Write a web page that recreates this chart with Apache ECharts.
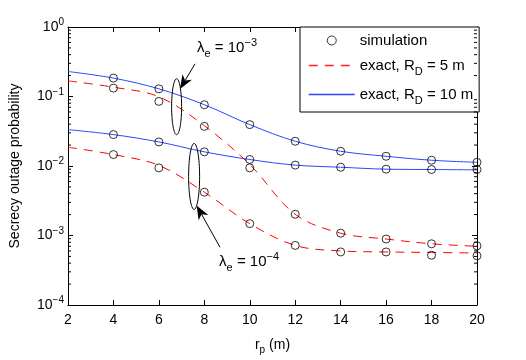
<!DOCTYPE html>
<html>
<head>
<meta charset="utf-8">
<script src="https://cdn.jsdelivr.net/npm/echarts@6/dist/echarts.min.js"></script>
<style>
  html, body { margin: 0; padding: 0; background: #fff; }
  #main { width: 526px; height: 360px; }
</style>
</head>
<body>
<div id="main"></div>
<script>
// distance r_p (m)
var rp = [2, 4, 6, 8, 10, 12, 14, 16, 18, 20];
var rpSim = [4, 6, 8, 10, 12, 14, 16, 18, 20];

// exact curves
var exact5_hi = [0.168, 0.136, 0.099, 0.038, 0.0105, 0.00202, 0.00108, 0.00089, 0.00076, 0.00070];
var exact10_hi = [0.229, 0.184, 0.129, 0.0762, 0.0394, 0.0227, 0.0163, 0.0138, 0.0121, 0.0113];
var exact5_lo = [0.0186, 0.0146, 0.0102, 0.0042, 0.00148, 0.00072, 0.00060, 0.00058, 0.00057, 0.00056];
var exact10_lo = [0.0334, 0.0283, 0.0222, 0.0160, 0.0124, 0.0103, 0.0096, 0.0090, 0.0089, 0.0088];

// simulation points
var sim5_hi = [0.132, 0.085, 0.0372, 0.0094, 0.00202, 0.00108, 0.00089, 0.00076, 0.00071];
var sim10_hi = [0.184, 0.129, 0.0762, 0.0394, 0.0227, 0.0163, 0.0138, 0.0121, 0.0113];
var sim5_lo = [0.0146, 0.0094, 0.0042, 0.00148, 0.00072, 0.00058, 0.00058, 0.00052, 0.00051];
var sim10_lo = [0.0283, 0.0222, 0.0160, 0.0124, 0.0103, 0.0096, 0.0090, 0.0089, 0.0089];

var xTicks = [2, 4, 6, 8, 10, 12, 14, 16, 18, 20];
var yExponents = [-4, -3, -2, -1, 0];

var FONT = 'Liberation Sans, Arial, sans-serif';

function pairs(xs, ys) {
  return xs.map(function (x, i) { return [x, ys[i]]; });
}

// minor tick values 2..9 x 10^k
var minorVals = [];
yExponents.slice(0, 4).forEach(function (e) {
  for (var m = 2; m <= 9; m++) minorVals.push([2, m * Math.pow(10, e)]);
});

var chart = echarts.init(document.getElementById('main'));

function exactLine(name, color, dash, data) {
  return {
    name: name, type: 'line', data: pairs(rp, data),
    smooth: 0.35, showSymbol: false, symbol: 'none', silent: true,
    lineStyle: { color: color, width: 1, type: dash },
    itemStyle: { color: color }, z: 2
  };
}
function simPoints(data) {
  return {
    name: 'simulation', type: 'scatter', data: pairs(rpSim, data),
    symbol: 'circle', symbolSize: 8, silent: true,
    itemStyle: { color: 'rgba(0,0,0,0)', borderColor: '#000', borderWidth: 1 }, z: 3
  };
}

var supRich = {
  b: { fontFamily: FONT, fontSize: 14, color: '#000' },
  s: { fontFamily: FONT, fontSize: 10, color: '#000', padding: [0, 0, 9, 0] }
};

// legend line entries: hide the marker, keep a thin line
var noMarker = { color: 'rgba(0,0,0,0)', borderColor: 'rgba(0,0,0,0)', borderWidth: 0 };

var option = {
  animation: false,
  grid: { left: 68, right: 49, top: 27, bottom: 54, containLabel: false },
  legend: {
    data: [
      { name: 'simulation', icon: 'circle', itemStyle: { color: 'rgba(0,0,0,0)', borderColor: '#000', borderWidth: 1 } },
      { name: 'exact, R_D = 5 m', itemStyle: noMarker, lineStyle: { width: 1.5, color: '#ff2020', type: [9, 7] } },
      { name: 'exact, R_D = 10 m', itemStyle: noMarker, lineStyle: { width: 1.3, color: '#2b45ff' } }
    ],
    orient: 'vertical', left: 300, top: 27,
    padding: [6, 6, 6, 8], itemGap: 10,
    itemWidth: 46, itemHeight: 9,
    backgroundColor: '#fff', borderColor: '#000', borderWidth: 1,
    selectedMode: false,
    formatter: function (name) {
      if (name === 'simulation') return '{t|simulation}';
      return name.replace('R_D', '{t|R}{u|D}').replace(/^exact, /, '{t|exact, }').replace(/ = (\d+) m$/, '{t| = $1 m}');
    },
    textStyle: {
      rich: {
        t: { fontFamily: FONT, fontSize: 15, color: '#000' },
        u: { fontFamily: FONT, fontSize: 11, color: '#000', padding: [12, 0, 0, 0] }
      }
    }
  },
  xAxis: [{
    type: 'value', min: 2, max: 20, interval: 2,
    name: '{t|r}{u|p}{t| (m)}', nameLocation: 'middle', nameGap: 30,
    nameTextStyle: { rich: {
      t: { fontFamily: FONT, fontSize: 14, color: '#000' },
      u: { fontFamily: FONT, fontSize: 10, color: '#000', padding: [10, 0, 0, 0] }
    } },
    axisLine: { lineStyle: { color: '#000', width: 1 } },
    axisTick: { inside: true, length: 5, lineStyle: { color: '#000' } },
    axisLabel: { fontFamily: FONT, fontSize: 14, color: '#000', margin: 8,
      formatter: function (v) { return xTicks.indexOf(v) >= 0 ? String(v) : ''; } },
    splitLine: { show: false }
  }, {
    type: 'value', position: 'top', min: 2, max: 20, interval: 2,
    axisLine: { show: true, lineStyle: { color: '#000', width: 1 } },
    axisTick: { inside: true, length: 5, lineStyle: { color: '#000' } },
    axisLabel: { show: false }, splitLine: { show: false }
  }],
  yAxis: [{
    type: 'log', logBase: 10, min: 1e-4, max: 1,
    name: 'Secrecy outage probability', nameLocation: 'middle', nameGap: 46,
    nameTextStyle: { fontFamily: FONT, fontSize: 14, color: '#000' },
    axisLine: { show: true, lineStyle: { color: '#000', width: 1 } },
    axisTick: { inside: true, length: 5, lineStyle: { color: '#000' } },
    axisLabel: {
      margin: 4,
      formatter: function (v) {
        var e = Math.round(Math.log(v) / Math.LN10);
        return '{b|10}{s|' + (e < 0 ? '\u2212' + (-e) : e) + '}';
      },
      rich: supRich
    },
    splitLine: { show: false }
  }, {
    type: 'log', logBase: 10, min: 1e-4, max: 1, position: 'right',
    axisLine: { show: true, lineStyle: { color: '#000', width: 1 } },
    axisTick: { inside: true, length: 5, lineStyle: { color: '#000' } },
    axisLabel: { show: false }, splitLine: { show: false }
  }],
  series: [
    exactLine('exact, R_D = 10 m', '#2b45ff', 'solid', exact10_hi),
    exactLine('exact, R_D = 10 m', '#2b45ff', 'solid', exact10_lo),
    exactLine('exact, R_D = 5 m', '#ff0000', [9, 7], exact5_hi),
    exactLine('exact, R_D = 5 m', '#ff0000', [9, 7], exact5_lo),
    simPoints(sim10_hi), simPoints(sim10_lo), simPoints(sim5_hi), simPoints(sim5_lo),
    {
      name: 'minor', type: 'custom', data: minorVals, silent: true, clip: false, z: 5,
      renderItem: function (params, api) {
        var p = api.coord([2, api.value(1)]);
        var cs = params.coordSys;
        var style = { stroke: '#000', lineWidth: 1 };
        return { type: 'group', children: [
          { type: 'line', shape: { x1: cs.x, y1: p[1], x2: cs.x + 3, y2: p[1] }, style: style },
          { type: 'line', shape: { x1: cs.x + cs.width, y1: p[1], x2: cs.x + cs.width - 3, y2: p[1] }, style: style }
        ] };
      }
    }
  ]
};

chart.setOption(option);

// annotations: ellipses, arrows and labels, placed from data coordinates
function px(x, y) { return chart.convertToPixel({ xAxisIndex: 0, yAxisIndex: 0 }, [x, y]); }
function arrow(from, to) {
  var dx = to[0] - from[0], dy = to[1] - from[1];
  var len = Math.sqrt(dx * dx + dy * dy), ux = dx / len, uy = dy / len;
  var hl = 14, hw = 5.5;
  var bx = to[0] - ux * hl, by = to[1] - uy * hl;
  return [
    { type: 'line', shape: { x1: from[0], y1: from[1], x2: bx + ux * 4, y2: by + uy * 4 }, style: { stroke: '#000', lineWidth: 1 }, z: 10 },
    { type: 'polygon', shape: { points: [to, [bx - uy * hw, by + ux * hw], [bx + ux * 4, by + uy * 4], [bx + uy * hw, by - ux * hw]] },
      style: { fill: '#000' }, z: 10 }
  ];
}
var lamRich = {
  a: { fontFamily: FONT, fontSize: 15, color: '#000' },
  e: { fontFamily: FONT, fontSize: 11, color: '#000', padding: [12, 0, 0, 0] },
  p: { fontFamily: FONT, fontSize: 11, color: '#000', padding: [0, 0, 10, 0] }
};
var c1 = px(6.78, 0.0713), c2 = px(7.55, 0.00707);
var t1 = px(7.68, 0.5), t2 = px(8.65, 0.000413);
var graphics = [
  { type: 'ellipse', shape: { cx: c1[0], cy: c1[1], rx: 5, ry: 28 }, style: { fill: 'none', stroke: '#000', lineWidth: 1 }, z: 10 },
  { type: 'ellipse', shape: { cx: c2[0], cy: c2[1], rx: 5.5, ry: 33 }, style: { fill: 'none', stroke: '#000', lineWidth: 1 }, z: 10 },
  { type: 'text', x: t1[0], y: t1[1], style: { text: '{a|\u03bb}{e|e}{a| = 10}{p|\u22123}', rich: lamRich, verticalAlign: 'middle' }, z: 10 },
  { type: 'text', x: t2[0], y: t2[1], style: { text: '{a|\u03bb}{e|e}{a| = 10}{p|\u22124}', rich: lamRich, verticalAlign: 'middle' }, z: 10 }
];
graphics = graphics.concat(arrow(px(7.59, 0.295), px(6.93, 0.128)));
graphics = graphics.concat(arrow(px(8.69, 0.000677), px(7.66, 0.00271)));
chart.setOption({ graphic: graphics });
</script>
</body>
</html>
